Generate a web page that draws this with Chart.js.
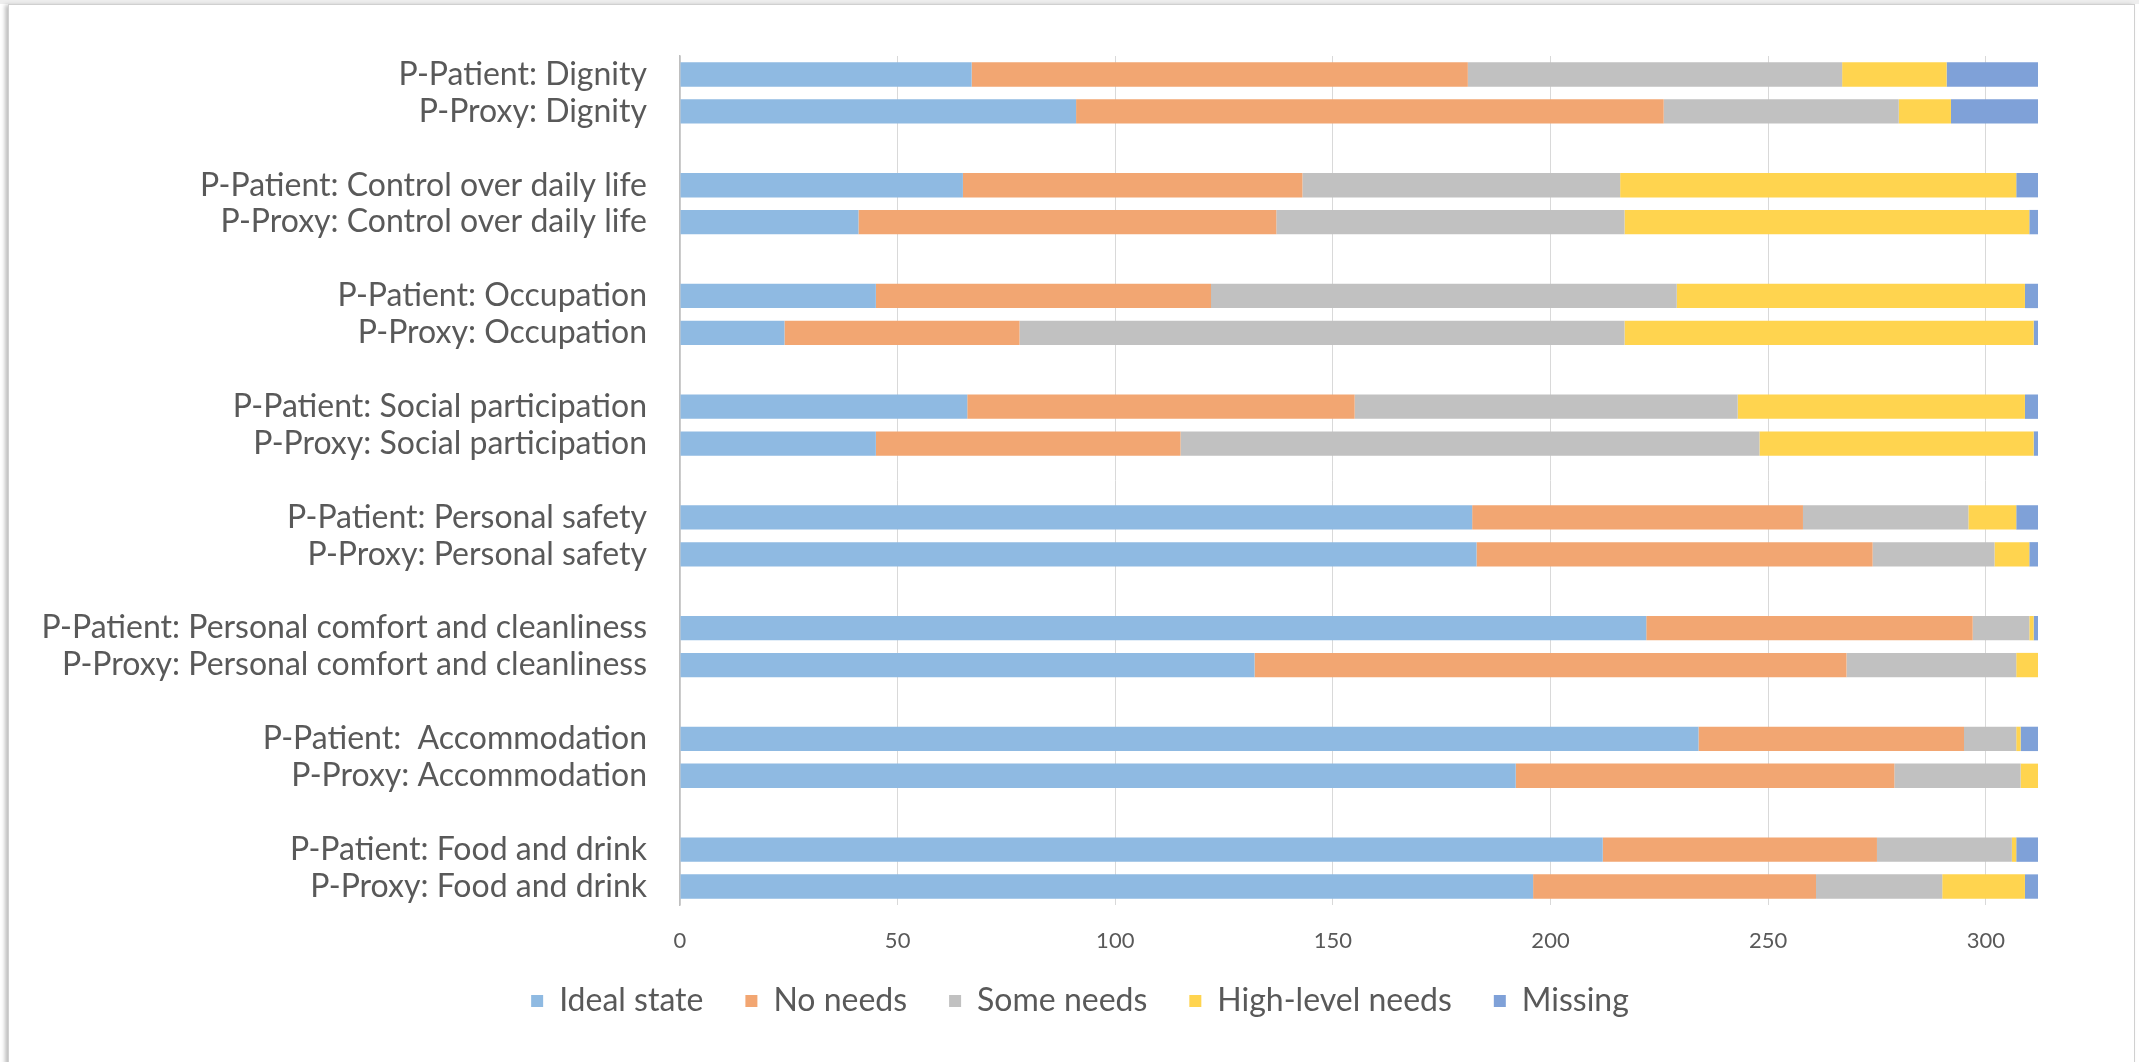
<!DOCTYPE html>
<html>
<head>
<meta charset="utf-8">
<script src="https://cdn.jsdelivr.net/npm/chart.js@4.4.1/dist/chart.umd.min.js"></script>
<style>
  html, body { margin: 0; padding: 0; background: #fff; }
  body { width: 2139px; height: 1062px; position: relative; overflow: hidden; }
  #topstrip { position: absolute; left: 0; top: 0; width: 2139px; height: 4px; background: #eeeeee; }
  #card {
    position: absolute; left: 8px; top: 4px; width: 2125px; height: 1080px;
    border: 1px solid #d0d0d0; background: #fff;
    box-shadow: -3px 1px 4px rgba(0, 0, 0, 0.25);
  }
  #myChart { position: absolute; left: 0; top: 0; }
</style>
</head>
<body>
<div id="topstrip"></div>
<div id="card"></div>
<canvas id="myChart" width="2139" height="1062"></canvas>
<script>
const categories = [
    'P-Patient: Dignity',
    'P-Proxy: Dignity',
    'P-Patient: Control over daily life',
    'P-Proxy: Control over daily life',
    'P-Patient: Occupation',
    'P-Proxy: Occupation',
    'P-Patient: Social participation',
    'P-Proxy: Social participation',
    'P-Patient: Personal safety',
    'P-Proxy: Personal safety',
    'P-Patient: Personal comfort and cleanliness',
    'P-Proxy: Personal comfort and cleanliness',
    'P-Patient:  Accommodation',
    'P-Proxy: Accommodation',
    'P-Patient: Food and drink',
    'P-Proxy: Food and drink',
];

const idealState = [67, 91, 65, 41, 45, 24, 66, 45, 182, 183, 222, 132, 234, 192, 212, 196];
const noNeeds    = [114, 135, 78, 96, 77, 54, 89, 70, 76, 91, 75, 136, 61, 87, 63, 65];
const someNeeds  = [86, 54, 73, 80, 107, 139, 88, 133, 38, 28, 13, 39, 12, 29, 31, 29];
const highNeeds  = [24, 12, 91, 93, 80, 94, 66, 63, 11, 8, 1, 5, 1, 4, 1, 19];
const missing    = [21, 20, 5, 2, 3, 1, 3, 1, 5, 2, 1, 0, 4, 0, 5, 3];

const xTicks = [0, 50, 100, 150, 200, 250, 300];
const xMax = 312;

// pairs of rows with an empty row between each pair
function withGaps(arr, blank) {
    let out = [];
    for (let i = 0; i < arr.length; i++) {
        out.push(arr[i]);
        if (i % 2 === 1 && i < arr.length - 1) {
            out.push(blank);
        }
    }
    return out;
}

const textColor = '#595959';
const fontFamily = 'Lato, "Open Sans", sans-serif';

const data = {
    labels: withGaps(categories, ''),
    datasets: [
        { label: 'Ideal state', data: withGaps(idealState, null), backgroundColor: '#8FBAE2' },
        { label: 'No needs', data: withGaps(noNeeds, null), backgroundColor: '#F2A672' },
        { label: 'Some needs', data: withGaps(someNeeds, null), backgroundColor: '#C1C1C1' },
        { label: 'High-level needs', data: withGaps(highNeeds, null), backgroundColor: '#FFD44F' },
        { label: 'Missing', data: withGaps(missing, null), backgroundColor: '#7FA1D8' },
    ]
};

// the legend in the original sits a bit right of the canvas centre
const shiftLegend = {
    id: 'shiftLegend',
    afterLayout(chart) {
        chart.legend.left += 56;
        chart.legend.right += 56;
    }
};

const config = {
    type: 'bar',
    data: data,
    plugins: [shiftLegend],
    options: {
        indexAxis: 'y',
        responsive: false,
        animation: false,
        categoryPercentage: 1,
        barPercentage: 0.66,
        layout: {
            padding: { top: 56, left: 10, right: 101, bottom: 35 }
        },
        scales: {
            x: {
                stacked: true,
                min: 0,
                max: xMax,
                afterFit: (s) => { s.height = 38; },
                afterBuildTicks: (s) => { s.ticks = xTicks.map(v => ({ value: v })); },
                grid: { color: '#d9d9d9', drawTicks: false },
                border: { display: false },
                ticks: {
                    // mirror keeps the labels from being clipped by the short axis box
                    mirror: true,
                    padding: -49,
                    color: textColor,
                    font: { family: fontFamily, size: 22 }
                }
            },
            y: {
                stacked: true,
                afterFit: (s) => { s.width = 670; },
                grid: { display: false, drawTicks: false },
                border: { display: true, color: '#bfbfbf', width: 1.5 },
                ticks: {
                    padding: 33,
                    autoSkip: false,
                    color: textColor,
                    font: { family: fontFamily, size: 32 }
                }
            }
        },
        plugins: {
            legend: {
                position: 'bottom',
                labels: {
                    boxWidth: 12,
                    boxHeight: 12,
                    padding: 42,
                    color: textColor,
                    font: { family: fontFamily, size: 32 }
                }
            },
            tooltip: { enabled: false }
        }
    }
};

function makeChart() {
    const myChart = new Chart(
        document.getElementById('myChart'),
        config
    );
}
makeChart();
</script>
</body>
</html>
